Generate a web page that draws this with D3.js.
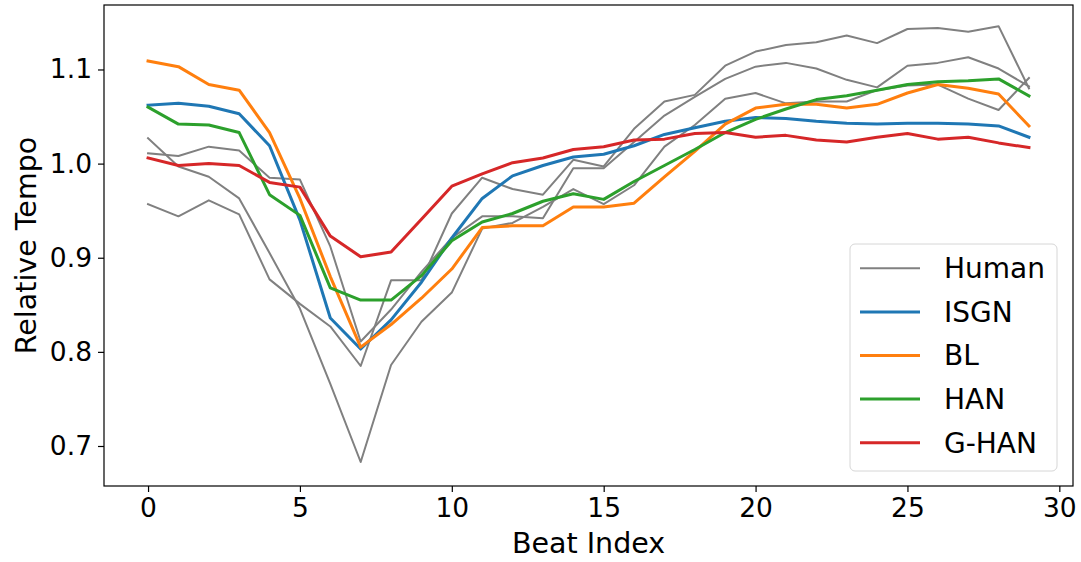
<!DOCTYPE html>
<html>
<head>
<meta charset="utf-8">
<script src="https://cdn.jsdelivr.net/npm/d3@7"></script>
<style>
  body { margin: 0; background: #fff; }
  text { font-family: "DejaVu Sans", sans-serif; fill: #000; }
</style>
</head>
<body>
<script>
const width = 1081, height = 562;
const margin = {left: 104, right: 8, top: 5, bottom: 76};

// beat index 0..29
const beats = d3.range(30);

// three human performances
const human1 = [1.027, 0.997, 0.986, 0.963, 0.905, 0.846, 0.766, 0.683, 0.786, 0.832,
                0.863, 0.931, 0.937, 0.954, 0.973, 0.957, 0.977, 1.018, 1.041, 1.069,
                1.075, 1.064, 1.066, 1.066, 1.078, 1.083, 1.084, 1.069, 1.057, 1.091];
const human2 = [1.011, 1.008, 1.018, 1.014, 0.985, 0.983, 0.912, 0.811, 0.845, 0.885,
                0.921, 0.944, 0.944, 0.942, 0.995, 0.995, 1.023, 1.051, 1.071, 1.090,
                1.103, 1.107, 1.101, 1.089, 1.081, 1.104, 1.107, 1.113, 1.101, 1.082];
const human3 = [0.957, 0.944, 0.961, 0.946, 0.877, 0.851, 0.827, 0.785, 0.876, 0.876,
                0.947, 0.985, 0.973, 0.967, 1.004, 0.997, 1.037, 1.066, 1.073, 1.104,
                1.119, 1.126, 1.129, 1.136, 1.128, 1.143, 1.144, 1.140, 1.146, 1.080];

const isgn = [1.062, 1.064, 1.061, 1.053, 1.019, 0.940, 0.836, 0.803, 0.834, 0.874,
              0.921, 0.963, 0.987, 0.998, 1.007, 1.010, 1.019, 1.031, 1.038, 1.045,
              1.049, 1.048, 1.045, 1.043, 1.042, 1.043, 1.043, 1.042, 1.040, 1.028];
const bl = [1.109, 1.103, 1.084, 1.078, 1.033, 0.963, 0.880, 0.805, 0.829, 0.857,
            0.888, 0.932, 0.934, 0.934, 0.954, 0.954, 0.958, 0.986, 1.013, 1.042,
            1.059, 1.063, 1.063, 1.059, 1.063, 1.075, 1.084, 1.080, 1.074, 1.040];
const han = [1.060, 1.042, 1.041, 1.033, 0.967, 0.945, 0.868, 0.855, 0.855, 0.881,
             0.918, 0.938, 0.947, 0.960, 0.968, 0.962, 0.981, 0.998, 1.015, 1.033,
             1.047, 1.058, 1.068, 1.072, 1.078, 1.084, 1.087, 1.088, 1.090, 1.072];
const ghan = [1.006, 0.998, 1.000, 0.998, 0.980, 0.975, 0.923, 0.901, 0.906, 0.941,
              0.976, 0.989, 1.001, 1.006, 1.015, 1.018, 1.025, 1.026, 1.032, 1.033,
              1.028, 1.030, 1.025, 1.023, 1.028, 1.032, 1.026, 1.028, 1.022, 1.017];

const xTicks = [0, 5, 10, 15, 20, 25, 30];
const yTicks = [0.7, 0.8, 0.9, 1.0, 1.1];

const series = [
  {name: "Human", values: human1, color: "#808080", w: 2},
  {name: null, values: human2, color: "#808080", w: 2},
  {name: null, values: human3, color: "#808080", w: 2},
  {name: "ISGN", values: isgn, color: "#1f77b4", w: 3},
  {name: "BL", values: bl, color: "#ff7f0e", w: 3},
  {name: "HAN", values: han, color: "#2ca02c", w: 3},
  {name: "G-HAN", values: ghan, color: "#d62728", w: 3}
];

const svg = d3.select("body").append("svg").attr("width", width).attr("height", height);

const x = d3.scaleLinear().domain([-1.45, 30.45]).range([margin.left, width - margin.right]);
const y = d3.scaleLinear().domain([0.6575, 1.1685]).range([height - margin.bottom, margin.top]);

const line = d3.line().x((d, i) => x(beats[i])).y(d => y(d));

svg.selectAll("path.series")
  .data(series)
  .enter().append("path")
  .attr("class", "series")
  .attr("d", d => line(d.values))
  .attr("fill", "none")
  .attr("stroke", d => d.color)
  .attr("stroke-width", d => d.w)
  .attr("stroke-linejoin", "round")
  .attr("stroke-linecap", "square");

// axes
const xAxis = svg.append("g")
  .attr("transform", `translate(0,${height - margin.bottom})`)
  .call(d3.axisBottom(x).tickValues(xTicks).tickSize(6).tickPadding(6).tickFormat(d3.format("d")));
const yAxis = svg.append("g")
  .attr("transform", `translate(${margin.left},0)`)
  .call(d3.axisLeft(y).tickValues(yTicks).tickSize(6).tickPadding(6).tickFormat(d3.format(".1f")));

[xAxis, yAxis].forEach(g => {
  g.select(".domain").remove();
  g.selectAll(".tick line").attr("stroke", "#000").attr("stroke-width", 1.2);
  g.selectAll(".tick text").attr("font-size", 26.5).attr("font-family", "DejaVu Sans");
});

// frame
svg.append("rect")
  .attr("x", margin.left).attr("y", margin.top)
  .attr("width", width - margin.left - margin.right)
  .attr("height", height - margin.top - margin.bottom)
  .attr("fill", "none").attr("stroke", "#000").attr("stroke-width", 1.2);

svg.append("text")
  .attr("x", (margin.left + width - margin.right) / 2)
  .attr("y", 553)
  .attr("text-anchor", "middle")
  .attr("font-size", 28.5)
  .text("Beat Index");

svg.append("text")
  .attr("transform", `translate(36,${(margin.top + height - margin.bottom) / 2}) rotate(-90)`)
  .attr("text-anchor", "middle")
  .attr("font-size", 28.5)
  .text("Relative Tempo");

// legend
const legendItems = series.filter(d => d.name);
svg.append("rect")
  .attr("x", 850).attr("y", 244)
  .attr("width", 207).attr("height", 227)
  .attr("rx", 5).attr("ry", 5)
  .attr("fill", "#fff").attr("fill-opacity", 0.8)
  .attr("stroke", "#d6d6d6").attr("stroke-width", 1);

const legend = svg.selectAll(".legendItem")
  .data(legendItems)
  .enter().append("g")
  .attr("class", "legendItem")
  .attr("transform", (d, i) => `translate(860,${268.3 + i * 43.6})`);

legend.append("line")
  .attr("x1", 0).attr("x2", 60)
  .attr("stroke", d => d.color)
  .attr("stroke-width", d => d.w);

legend.append("text")
  .attr("x", 84)
  .attr("dy", "0.35em")
  .attr("font-size", 28)
  .text(d => d.name);
</script>
</body>
</html>
